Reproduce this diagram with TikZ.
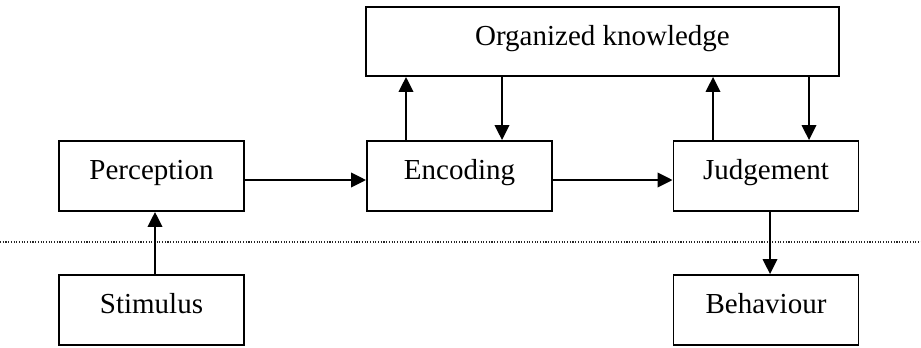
\documentclass[tikz,border=0pt]{standalone}
\usepackage{fontspec}
\setmainfont{Liberation Serif}
\usetikzlibrary{arrows.meta}
\begin{document}
\begin{tikzpicture}[x=1pt,y=-1pt,
  box/.style={draw, line width=1.9pt, inner sep=0pt, minimum width=185pt,
    text height=38.5pt, text depth=31.5pt, font=\fontsize{29}{34}\selectfont},
  arr/.style={line width=1.9pt, -{Triangle[length=15pt,width=14.5pt]}},
  sep/.style={line width=1.1pt, dash pattern=on 1.1pt off 1.6pt, black!85}]
\useasboundingbox (0,0) rectangle (921,348);
\node[box] (P) at (151.5,176) {Perception};
\node[box] (E) at (459.5,176) {Encoding};
\node[box] (J) at (766,176) {Judgement};
\node[box, minimum width=473pt, text height=38.5pt, text depth=30.5pt] (K) at (602.5,41.5) {Organized knowledge};
\node[box] (S) at (151.5,310) {Stimulus};
\node[box] (B) at (766,310) {Behaviour};
\coordinate (m) at (0,180);
\draw[sep] (0,242) -- (921,242);
\draw[arr] (P.east |- m) -- (E.west |- m);
\draw[arr] (E.east |- m) -- (J.west |- m);
\draw[arr] (S.north -| 155,0) -- (P.south -| 155,0);
\draw[arr] (E.north -| 406,0) -- (K.south -| 406,0);
\draw[arr] (K.south -| 502,0) -- (E.north -| 502,0);
\draw[arr] (J.north -| 713,0) -- (K.south -| 713,0);
\draw[arr] (K.south -| 809,0) -- (J.north -| 809,0);
\draw[arr] (J.south -| 770,0) -- (B.north -| 770,0);
\end{tikzpicture}
\end{document}
